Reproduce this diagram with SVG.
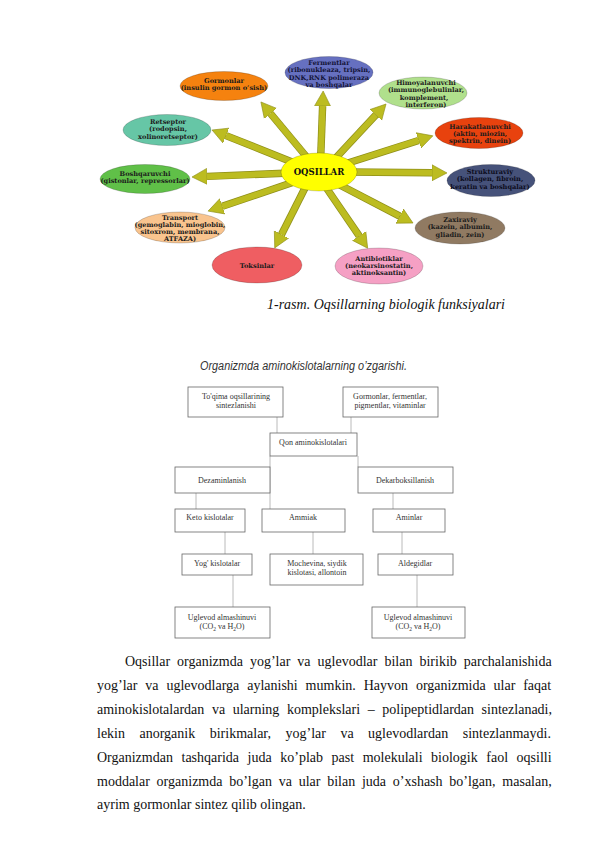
<svg xmlns="http://www.w3.org/2000/svg" width="596" height="842" viewBox="0 0 596 842">
<style>
.bg{fill:#fff}
.el{stroke:#000;stroke-opacity:.18;stroke-width:1}
.et{font-family:"DejaVu Serif","Liberation Serif",serif;font-weight:bold;font-size:6.6px;fill:#1c1c1c;text-anchor:middle}
.ctr{font-family:"DejaVu Serif","Liberation Serif",serif;font-weight:bold;font-size:8.5px;fill:#111;text-anchor:middle}
.under{stroke:#8e8e18;stroke-width:7.4;fill:none}
.shaft{stroke:#bcbc20;stroke-width:6;fill:none;marker-end:url(#ah)}
.box{fill:#fff;stroke:#666;stroke-width:.8}
.bt{font-family:"Liberation Serif",serif;font-size:8px;fill:#333;text-anchor:middle}
.ln{stroke:#a8a8a8;stroke-width:.8;fill:none}
.p{font-family:"Liberation Serif",serif;font-size:14px;fill:#111}
.cap{font-family:"Liberation Serif",serif;font-style:italic;font-size:14px;fill:#111}
.ttl{font-family:"Liberation Sans",sans-serif;font-style:italic;font-size:12.5px;fill:#333}
</style>
<defs>
<marker id="ah" markerUnits="userSpaceOnUse" markerWidth="17" markerHeight="18" viewBox="0 -9 17 18" refX="0" refY="0" orient="auto">
<path d="M0,-8 L15,0 L0,8 Z" fill="#bcbc20" stroke="#8e8e18" stroke-width="0.6"/>
</marker>
</defs>
<rect class="bg" x="0" y="0" width="596" height="842"/>

<g id="connectors">
<g id="arrows">
<line class="under" x1="320.5" y1="163" x2="322.6" y2="106"/><line class="shaft" x1="320.5" y1="163" x2="322.6" y2="106"/>
<line class="under" x1="310" y1="161" x2="270.5" y2="113.5"/><line class="shaft" x1="310" y1="161" x2="270.5" y2="113.5"/>
<line class="under" x1="332" y1="162" x2="375.8" y2="115"/><line class="shaft" x1="332" y1="162" x2="375.8" y2="115"/>
<line class="under" x1="297" y1="164" x2="226" y2="135.6"/><line class="shaft" x1="297" y1="164" x2="226" y2="135.6"/>
<line class="under" x1="348" y1="163" x2="418.6" y2="140.4"/><line class="shaft" x1="348" y1="163" x2="418.6" y2="140.4"/>
<line class="under" x1="290" y1="173" x2="207" y2="176.4"/><line class="shaft" x1="290" y1="173" x2="207" y2="176.4"/>
<line class="under" x1="348" y1="172" x2="432" y2="172.8"/><line class="shaft" x1="348" y1="172" x2="432" y2="172.8"/>
<line class="under" x1="294" y1="182" x2="222.3" y2="206.3"/><line class="shaft" x1="294" y1="182" x2="222.3" y2="206.3"/>
<line class="under" x1="336" y1="183" x2="399.7" y2="216.1"/><line class="shaft" x1="336" y1="183" x2="399.7" y2="216.1"/>
<line class="under" x1="308" y1="182" x2="281.5" y2="234.5"/><line class="shaft" x1="308" y1="182" x2="281.5" y2="234.5"/>
<line class="under" x1="323" y1="183" x2="359.2" y2="235.9"/><line class="shaft" x1="323" y1="183" x2="359.2" y2="235.9"/>
</g>
<g id="flow-lines">
<line class="ln" x1="277" y1="417" x2="277" y2="433"/>
<line class="ln" x1="351" y1="417" x2="351" y2="433"/>
<line class="ln" x1="270" y1="456" x2="270" y2="509"/>
<line class="ln" x1="358" y1="456" x2="358" y2="467"/>
<line class="ln" x1="196" y1="493" x2="196" y2="509"/>
<line class="ln" x1="393" y1="493" x2="393" y2="509"/>
<line class="ln" x1="225" y1="532" x2="225" y2="554"/>
<line class="ln" x1="313" y1="532" x2="313" y2="554"/>
<line class="ln" x1="402" y1="532" x2="402" y2="554"/>
<line class="ln" x1="233" y1="575" x2="233" y2="607"/>
<line class="ln" x1="417" y1="575" x2="417" y2="607"/>
</g>
</g>

<g id="n-oqsillar"><ellipse class="el" cx="319" cy="172" rx="38" ry="19" fill="#ffff00"/><text class="ctr" x="319" y="175">OQSILLAR</text></g>
<g id="n-fermentlar"><ellipse class="el" cx="329" cy="72.5" rx="44" ry="16" fill="#6670c0"/>
<text class="et" x="329" y="65" style="fill:#141438">Fermentlar</text><text class="et" x="329" y="72.3" style="fill:#141438">(ribonukleaza, tripsin,</text><text class="et" x="329" y="79.6" style="fill:#141438">DNK,RNK polimeraza</text><text class="et" x="329" y="86.9" style="fill:#141438">va boshqalar</text></g>
<g id="n-gormonlar"><ellipse class="el" cx="224" cy="86" rx="44" ry="14.5" fill="#f5820f"/>
<text class="et" x="224" y="83">Gormonlar</text><text class="et" x="224" y="90.3">(insulin gormon o’sish)</text></g>
<g id="n-himoya"><ellipse class="el" cx="423" cy="93" rx="44" ry="16" fill="#b0e08c"/>
<text class="et" x="426" y="85">Himoyalanuvchi</text><text class="et" x="426" y="92.3">(immunoglebulinlar,</text><text class="et" x="424" y="99.6">komplement,</text><text class="et" x="426" y="106.9">interferon)</text></g>
<g id="n-retseptor"><ellipse class="el" cx="167" cy="130" rx="44" ry="15.5" fill="#66c6a6"/>
<text class="et" x="168" y="124">Retseptor</text><text class="et" x="168" y="131.3">(rodopsin,</text><text class="et" x="168" y="138.6">xolinoretseptor)</text></g>
<g id="n-harakat"><ellipse class="el" cx="479" cy="133" rx="44" ry="15.5" fill="#e8420e"/>
<text class="et" x="480" y="128.5">Harakatlanuvchi</text><text class="et" x="480" y="135.8">(aktin, miozin,</text><text class="et" x="480" y="143.1">spektrin, dinein)</text></g>
<g id="n-boshqaruvchi"><ellipse class="el" cx="145" cy="179" rx="45" ry="14.5" fill="#60c048"/>
<text class="et" x="145" y="176">Boshqaruvchi</text><text class="et" x="145" y="183.3">(gistonlar, repressorlar)</text></g>
<g id="n-struktura"><ellipse class="el" cx="491" cy="180.5" rx="44" ry="16" fill="#46527a"/>
<text class="et" x="490" y="174" style="fill:#0c0c1c">Strukturaviy</text><text class="et" x="490" y="181.3" style="fill:#0c0c1c">(kollagen, fibroin,</text><text class="et" x="490" y="188.6" style="fill:#0c0c1c">keratin va boshqalar)</text></g>
<g id="n-transport"><ellipse class="el" cx="180" cy="227.5" rx="45" ry="15.5" fill="#f9c48e"/>
<text class="et" x="180" y="220">Transport</text><text class="et" x="180" y="227">(gemoglabin, mioglobin,</text><text class="et" x="180" y="234">sitoxrom, membrana,</text><text class="et" x="180" y="241">ATFAZA)</text></g>
<g id="n-zaxira"><ellipse class="el" cx="460" cy="228" rx="45" ry="16" fill="#907a62"/>
<text class="et" x="460" y="222">Zaxiraviy</text><text class="et" x="460" y="229.3">(kazein, albumin,</text><text class="et" x="460" y="236.6">gliadin, zein)</text></g>
<g id="n-toksinlar"><ellipse class="el" cx="257" cy="265" rx="45" ry="18" fill="#ef5e62"/>
<text class="et" x="257" y="267.5">Toksinlar</text></g>
<g id="n-antibiotik"><ellipse class="el" cx="379" cy="266" rx="44" ry="18" fill="#f5a0c4"/>
<text class="et" x="379" y="260.5">Antibiotiklar</text><text class="et" x="379" y="267.8">(neokarsinostatin,</text><text class="et" x="379" y="275.1">aktinoksantin)</text></g>

<text class="cap" x="267" y="309">1-rasm. Oqsillarning biologik funksiyalari</text>

<text class="ttl" x="200" y="370" textLength="207" lengthAdjust="spacingAndGlyphs">Organizmda aminokislotalarning o’zgarishi.</text>

<g id="b-toqima"><rect class="box" x="188" y="387" width="95" height="30"/><text class="bt" x="236" y="398.5">To'qima oqsillarining</text><text class="bt" x="236" y="407.5">sintezlanishi</text></g>
<g id="b-gormonlar"><rect class="box" x="343" y="387" width="95" height="30"/><text class="bt" x="390" y="398.5">Gormonlar, fermentlar,</text><text class="bt" x="390" y="407.5">pigmentlar, vitaminlar</text></g>
<g id="b-qon"><rect class="box" x="270" y="433" width="87" height="23"/><text class="bt" x="313" y="445">Qon aminokislotalari</text></g>
<g id="b-dezamin"><rect class="box" x="175" y="467" width="95" height="26"/><text class="bt" x="222" y="482.5">Dezaminlanish</text></g>
<g id="b-dekarb"><rect class="box" x="358" y="467" width="95" height="26"/><text class="bt" x="405" y="482.5">Dekarboksillanish</text></g>
<g id="b-keto"><rect class="box" x="175" y="509" width="70" height="23"/><text class="bt" x="210" y="520">Keto kislotalar</text></g>
<g id="b-ammiak"><rect class="box" x="262" y="509" width="83" height="23"/><text class="bt" x="303" y="520">Ammiak</text></g>
<g id="b-aminlar"><rect class="box" x="373" y="509" width="72" height="23"/><text class="bt" x="409" y="520">Aminlar</text></g>
<g id="b-yog"><rect class="box" x="182" y="554" width="70" height="21"/><text class="bt" x="217" y="566">Yog' kislotalar</text></g>
<g id="b-mochevina"><rect class="box" x="270" y="554" width="93" height="31"/><text class="bt" x="317" y="566">Mochevina, siydik</text><text class="bt" x="317" y="575">kislotasi, allontoin</text></g>
<g id="b-aldegid"><rect class="box" x="378" y="554" width="75" height="21"/><text class="bt" x="415" y="566">Aldegidlar</text></g>
<g id="b-uglevod1"><rect class="box" x="175" y="607" width="95" height="31"/><text class="bt" x="222" y="619.5">Uglevod almashinuvi</text><text class="bt" x="222" y="629">(CO<tspan font-size="5.5" dy="1.5">2</tspan><tspan dy="-1.5"> va H</tspan><tspan font-size="5.5" dy="1.5">2</tspan><tspan dy="-1.5">O)</tspan></text></g>
<g id="b-uglevod2"><rect class="box" x="372" y="607" width="93" height="31"/><text class="bt" x="418" y="619.5">Uglevod almashinuvi</text><text class="bt" x="418" y="629">(CO<tspan font-size="5.5" dy="1.5">2</tspan><tspan dy="-1.5"> va H</tspan><tspan font-size="5.5" dy="1.5">2</tspan><tspan dy="-1.5">O)</tspan></text></g>

<g id="paragraph" class="p">
<text x="125" y="666" word-spacing="3.5">Oqsillar organizmda yog’lar va uglevodlar bilan birikib parchalanishida</text>
<text x="97" y="690" word-spacing="4.4">yog’lar va uglevodlarga aylanishi mumkin. Hayvon organizmida ular faqat</text>
<text x="97" y="714" word-spacing="4.1">aminokislotalardan va ularning komplekslari – polipeptidlardan sintezlanadi,</text>
<text x="97" y="737.5" word-spacing="11">lekin anorganik birikmalar, yog’lar va uglevodlardan sintezlanmaydi.</text>
<text x="97" y="761.5" word-spacing="5.05">Organizmdan tashqarida juda ko’plab past molekulali biologik faol oqsilli</text>
<text x="97" y="785.5" word-spacing="3.25">moddalar organizmda bo’lgan va ular bilan juda o’xshash bo’lgan, masalan,</text>
<text x="97" y="809">ayrim gormonlar sintez qilib olingan.</text>
</g>
</svg>
